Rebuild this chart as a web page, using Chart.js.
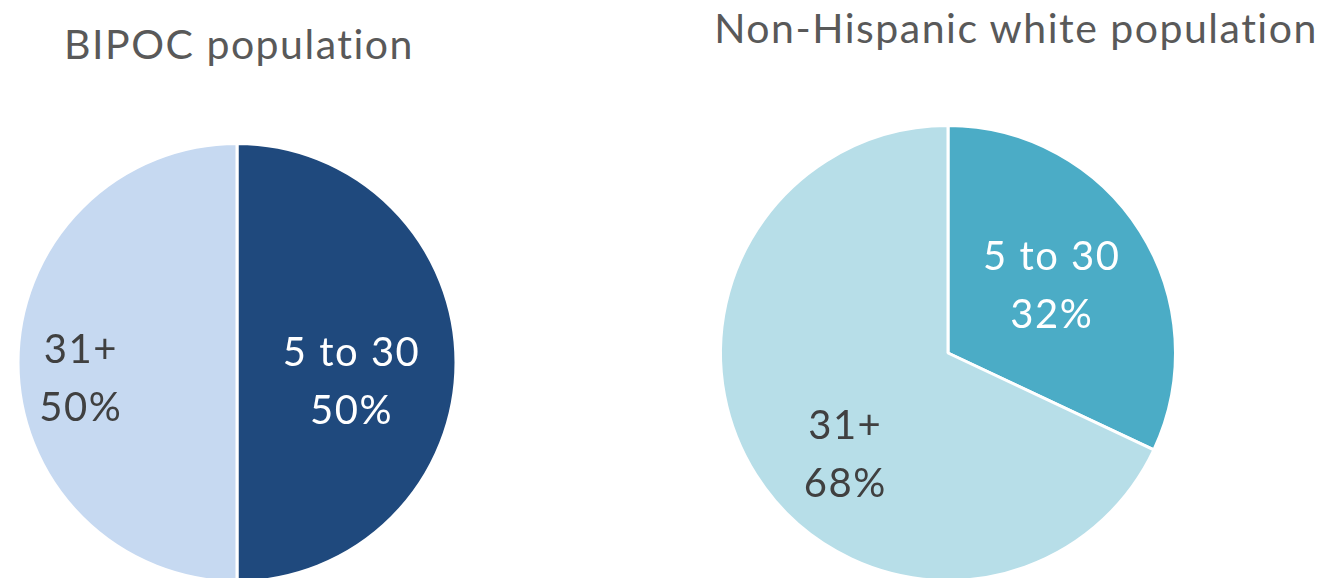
<!DOCTYPE html>
<html>
<head>
<meta charset="utf-8">
<script src="https://cdn.jsdelivr.net/npm/chart.js@4/dist/chart.umd.min.js"></script>
<style>
  html, body { margin: 0; padding: 0; width: 1326px; height: 578px; overflow: hidden; background: #fff; }
  .title { position: absolute; font-family: Lato, "Open Sans", sans-serif; font-size: 41px; letter-spacing: 1.5px; line-height: 1; color: #595959; white-space: nowrap; transform: translateX(-50%); }
  .wrap { position: absolute; }
  canvas { display: block; }
</style>
</head>
<body>
<div class="title" id="t1" style="left:239px; top:23px;"></div>
<div class="title" id="t2" style="left:1016px; top:7px;"></div>
<div class="wrap" style="left:0px; top:100px; width:474px; height:525px;"><canvas id="c1"></canvas></div>
<div class="wrap" style="left:713px; top:120px; width:470px; height:466px;"><canvas id="c2"></canvas></div>
<script>
// ---- data ----
const categories = ["5 to 30", "31+"];
const bipocValues = [50, 50];
const whiteValues = [32, 68];
const titles = ["BIPOC population", "Non-Hispanic white population"];

document.getElementById('t1').textContent = titles[0];
document.getElementById('t2').textContent = titles[1];

const sliceLabels = {
  id: 'sliceLabels',
  afterDatasetsDraw(chart, args, opts) {
    const ctx = chart.ctx;
    const meta = chart.getDatasetMeta(0);
    const ds = chart.data.datasets[0];
    const total = ds.data.reduce((a, b) => a + b, 0);
    ctx.save();
    ctx.font = opts.font;
    if ('letterSpacing' in ctx) ctx.letterSpacing = opts.letterSpacing;
    ctx.textAlign = 'center';
    ctx.textBaseline = 'alphabetic';
    meta.data.forEach((arc, i) => {
      const p = arc.getProps(['x', 'y', 'startAngle', 'endAngle', 'outerRadius'], true);
      const mid = (p.startAngle + p.endAngle) / 2;
      const pl = opts.place[i];
      const cx = p.x + Math.cos(mid) * p.outerRadius * pl.frac;
      const cy = p.y + Math.sin(mid) * p.outerRadius * pl.frac + pl.dy;
      const pct = Math.round(ds.data[i] / total * 100) + '%';
      ctx.fillStyle = opts.colors[i];
      const half = opts.lineGap / 2;
      ctx.fillText(chart.data.labels[i], cx, cy - half + opts.capHalf);
      ctx.fillText(pct, cx, cy + half + opts.capHalf);
    });
    ctx.restore();
  }
};

function makePie(id, values, colors, radius, place) {
  return new Chart(document.getElementById(id), {
    type: 'pie',
    data: {
      labels: categories,
      datasets: [{
        data: values,
        backgroundColor: colors,
        borderColor: '#ffffff',
        borderWidth: 3,
        hoverOffset: 0
      }]
    },
    options: {
      responsive: true,
      maintainAspectRatio: false,
      animation: false,
      radius: radius,
      rotation: 0,
      layout: { padding: 0 },
      plugins: {
        legend: { display: false },
        tooltip: { enabled: false },
        title: { display: false },
        sliceLabels: {
          font: '40px Lato, "Open Sans", sans-serif',
          letterSpacing: '1.5px',
          lineGap: 58,
          capHalf: 14,
          colors: ['#ffffff', '#404040'],
          place: place
        }
      },
      events: []
    },
    plugins: [sliceLabels]
  });
}

makePie('c1', bipocValues, ['#1F497D', '#C6D9F1'], 219,
  [{ frac: 0.523, dy: 18.6 }, { frac: 0.713, dy: 15.5 }]);
makePie('c2', whiteValues, ['#4BACC6', '#B7DEE8'], 227.5,
  [{ frac: 0.54, dy: -2.6 }, { frac: 0.535, dy: 36 }]);
</script>
</body>
</html>
